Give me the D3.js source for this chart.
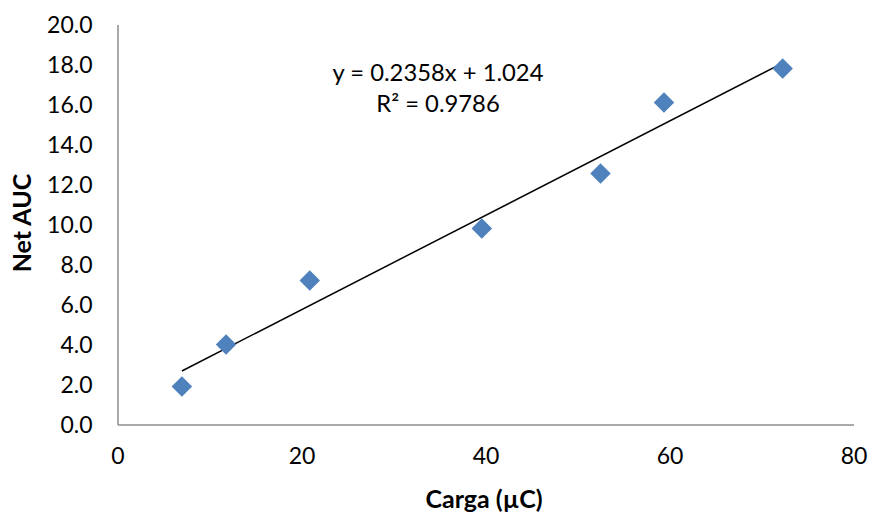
<!DOCTYPE html>
<html><head><meta charset="utf-8">
<script src="https://cdn.jsdelivr.net/npm/d3@7"></script>
<style>body{margin:0;background:#fff}svg{display:block}text{font-family:Lato,"Open Sans",sans-serif}</style>
</head><body><svg id="c" width="871" height="512"></svg>
<script>
const carga = [7.0, 11.8, 20.9, 39.6, 52.5, 59.4, 72.3];
const netAUC = [1.9, 4.0, 7.2, 9.8, 12.55, 16.1, 17.8];
const slope = 0.2358, intercept = 1.024;
const eqLabel = "y = 0.2358x + 1.024";
const r2Label = "R² = 0.9786";
const xTicks = [0, 20, 40, 60, 80];
const yTicks = [0, 2, 4, 6, 8, 10, 12, 14, 16, 18, 20];

const svg = d3.select("#c");
const x = d3.scaleLinear().domain([0, 80]).range([117.5, 853.5]);
const y = d3.scaleLinear().domain([0, 20]).range([424.5, 24.5]);
const fs = 23;

// axes
const xa = svg.append("g").attr("transform", `translate(0,${y(0)})`)
  .call(d3.axisBottom(x).tickValues(xTicks).tickSize(0).tickPadding(23).tickFormat(d3.format("d")));
const ya = svg.append("g").attr("transform", `translate(${x(0)},0)`)
  .call(d3.axisLeft(y).tickValues(yTicks).tickSize(0).tickPadding(25).tickFormat(d3.format(".1f")));
[xa, ya].forEach(g => {
  g.select(".domain").attr("stroke", "#8c8c8c").attr("stroke-width", 1.5);
  g.selectAll("text").attr("font-size", fs).attr("fill", "#000").attr("font-family", "Lato");
});
ya.selectAll("text").attr("dy", "0.35em");

// trendline
const xmin = d3.min(carga), xmax = d3.max(carga);
svg.append("line")
  .attr("x1", x(xmin)).attr("y1", y(slope * xmin + intercept))
  .attr("x2", x(xmax)).attr("y2", y(slope * xmax + intercept))
  .attr("stroke", "#000").attr("stroke-width", 1.5);

// points
const sym = d3.symbol().type(d3.symbolSquare).size(210);
svg.append("g").selectAll("path").data(carga).join("path")
  .attr("d", sym)
  .attr("transform", (d, i) => `translate(${x(d)},${y(netAUC[i])}) rotate(45)`)
  .attr("fill", "#4f81bd");

// equation
svg.append("text").attr("x", 438).attr("y", 81).attr("text-anchor", "middle")
  .attr("font-size", 23.8).text(eqLabel);
svg.append("text").attr("x", 438).attr("y", 112).attr("text-anchor", "middle")
  .attr("font-size", 23.8).text(r2Label);

// axis titles
svg.append("text").attr("x", 484).attr("y", 508).attr("text-anchor", "middle")
  .attr("font-size", 25).attr("font-weight", "bold").text("Carga (µC)");
svg.append("text").attr("transform", "translate(31,223) rotate(-90)").attr("text-anchor", "middle")
  .attr("font-size", 25).attr("font-weight", "bold").text("Net AUC");
</script></body></html>
